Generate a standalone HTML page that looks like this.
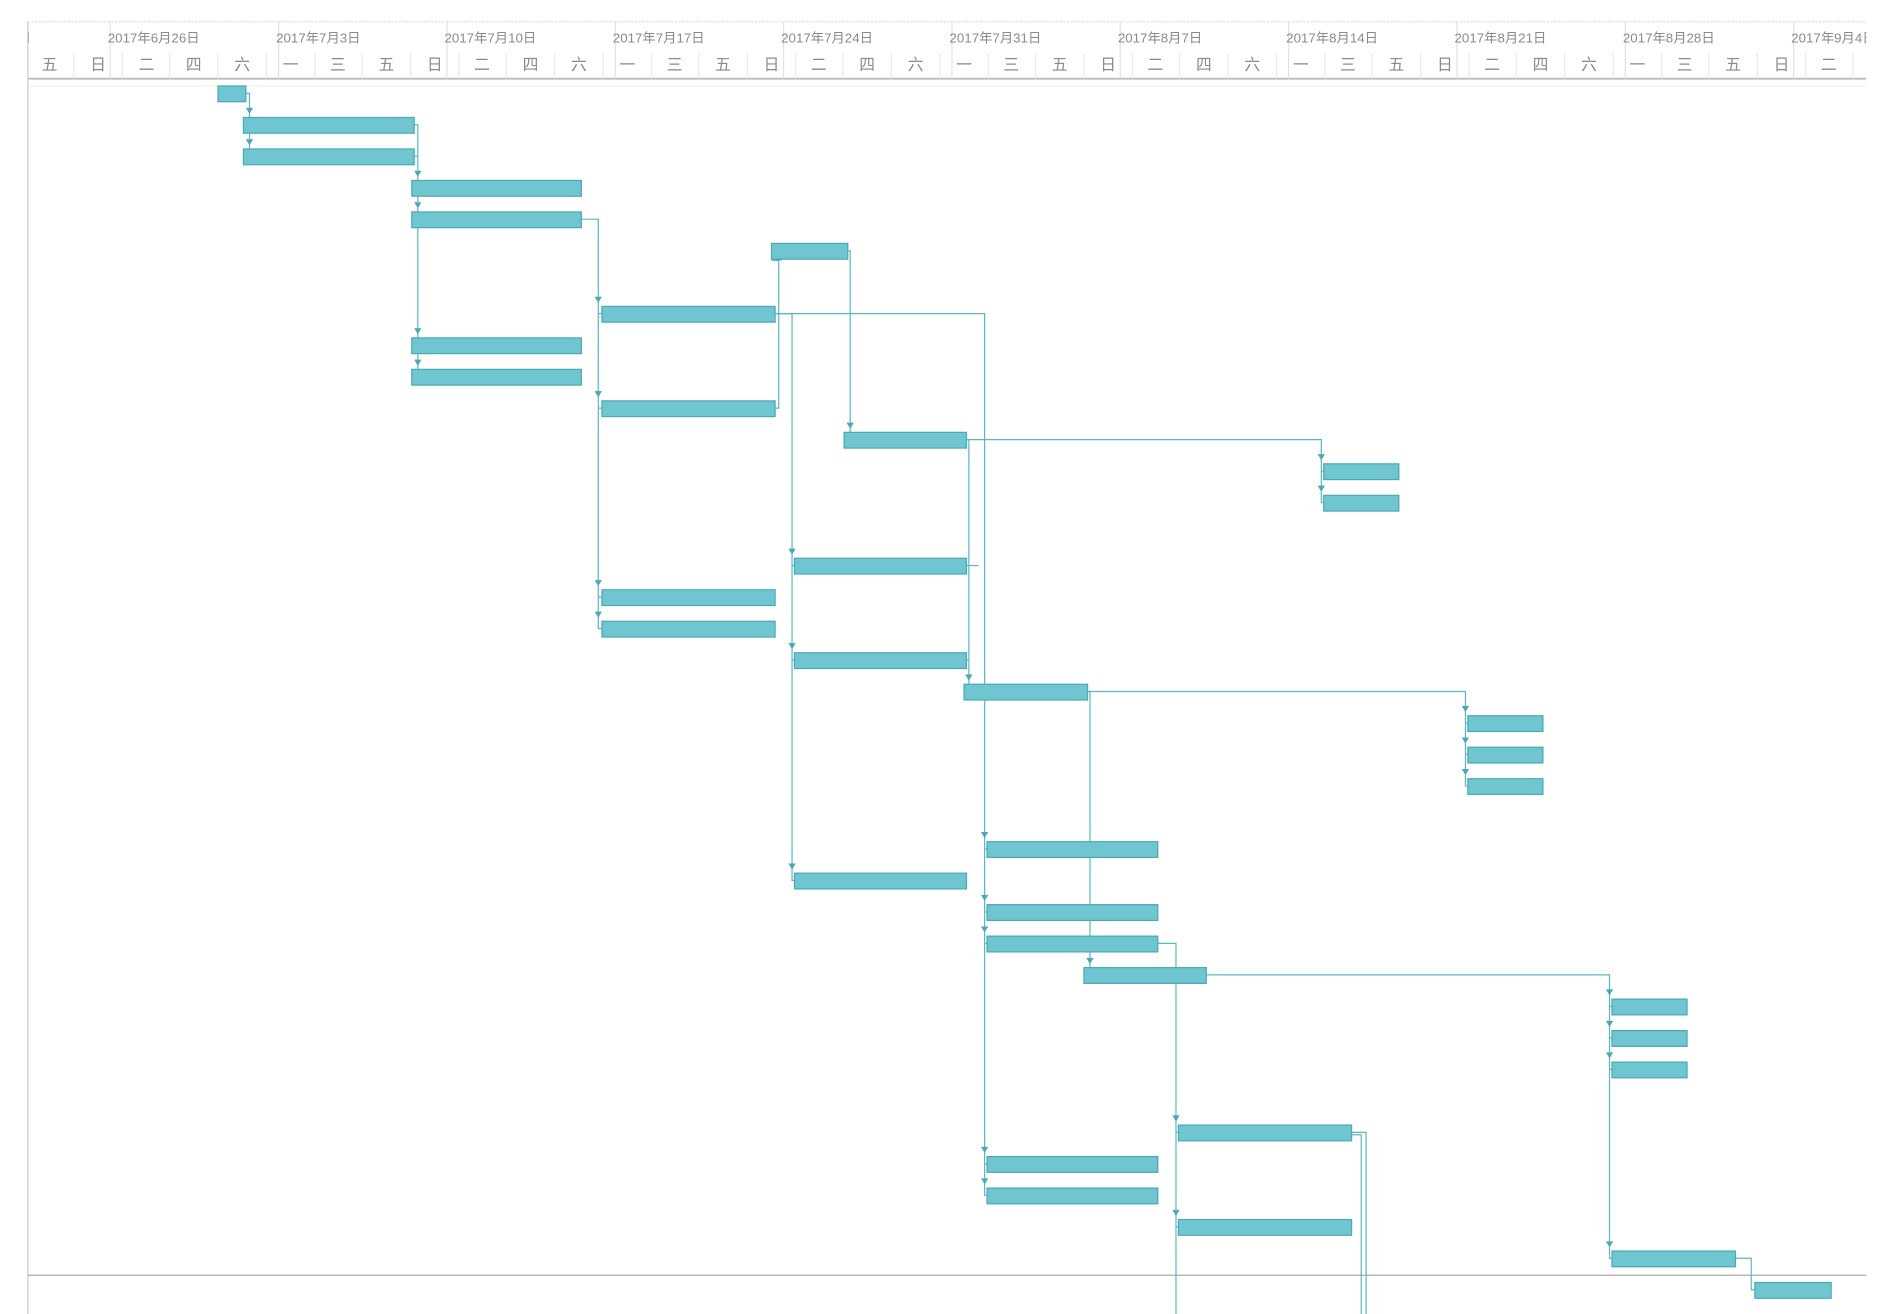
<!DOCTYPE html>
<html><head><meta charset="utf-8"><style>
html,body{margin:0;padding:0;background:#fff;width:1899px;height:1314px;overflow:hidden}
svg{display:block}
text{font-family:"Liberation Sans","Noto Sans CJK SC",sans-serif;fill:#8a8a8a}
</style></head><body>
<svg width="1899" height="1314" viewBox="0 0 1568 1085" preserveAspectRatio="none" xmlns="http://www.w3.org/2000/svg">
<defs><clipPath id="c"><rect x="23" y="0" width="1518" height="1085"/></clipPath></defs>
<g clip-path="url(#c)">
<line x1="23" y1="18" x2="1541" y2="18" stroke="#ddd" stroke-dasharray="2,1"/>
<line x1="23" y1="65" x2="1541" y2="65" stroke="#bbb" stroke-width="1.5"/>
<line x1="23" y1="71" x2="1541" y2="71" stroke="#f0f0f0"/>
<g stroke="#e2e2e2">
<line x1="91" y1="18" x2="91" y2="65"/><line x1="230" y1="18" x2="230" y2="65"/><line x1="369" y1="18" x2="369" y2="65"/><line x1="508" y1="18" x2="508" y2="65"/><line x1="647" y1="18" x2="647" y2="65"/><line x1="786" y1="18" x2="786" y2="65"/><line x1="925" y1="18" x2="925" y2="65"/><line x1="1064" y1="18" x2="1064" y2="65"/><line x1="1203" y1="18" x2="1203" y2="65"/><line x1="1342" y1="18" x2="1342" y2="65"/><line x1="1481" y1="18" x2="1481" y2="65"/>
</g>
<g stroke="#eaeaea">
<line x1="61" y1="44" x2="61" y2="65"/><line x1="101" y1="44" x2="101" y2="65"/><line x1="140" y1="44" x2="140" y2="65"/><line x1="180" y1="44" x2="180" y2="65"/><line x1="220" y1="44" x2="220" y2="65"/><line x1="260" y1="44" x2="260" y2="65"/><line x1="299" y1="44" x2="299" y2="65"/><line x1="339" y1="44" x2="339" y2="65"/><line x1="379" y1="44" x2="379" y2="65"/><line x1="418" y1="44" x2="418" y2="65"/><line x1="458" y1="44" x2="458" y2="65"/><line x1="498" y1="44" x2="498" y2="65"/><line x1="538" y1="44" x2="538" y2="65"/><line x1="577" y1="44" x2="577" y2="65"/><line x1="617" y1="44" x2="617" y2="65"/><line x1="657" y1="44" x2="657" y2="65"/><line x1="696" y1="44" x2="696" y2="65"/><line x1="736" y1="44" x2="736" y2="65"/><line x1="776" y1="44" x2="776" y2="65"/><line x1="816" y1="44" x2="816" y2="65"/><line x1="855" y1="44" x2="855" y2="65"/><line x1="895" y1="44" x2="895" y2="65"/><line x1="935" y1="44" x2="935" y2="65"/><line x1="974" y1="44" x2="974" y2="65"/><line x1="1014" y1="44" x2="1014" y2="65"/><line x1="1054" y1="44" x2="1054" y2="65"/><line x1="1094" y1="44" x2="1094" y2="65"/><line x1="1133" y1="44" x2="1133" y2="65"/><line x1="1173" y1="44" x2="1173" y2="65"/><line x1="1213" y1="44" x2="1213" y2="65"/><line x1="1252" y1="44" x2="1252" y2="65"/><line x1="1292" y1="44" x2="1292" y2="65"/><line x1="1332" y1="44" x2="1332" y2="65"/><line x1="1372" y1="44" x2="1372" y2="65"/><line x1="1411" y1="44" x2="1411" y2="65"/><line x1="1451" y1="44" x2="1451" y2="65"/><line x1="1491" y1="44" x2="1491" y2="65"/><line x1="1530" y1="44" x2="1530" y2="65"/>
</g>
<g font-size="11">
<text x="-50" y="35">2017年6月19日</text><text x="89" y="35">2017年6月26日</text><text x="228" y="35">2017年7月3日</text><text x="367" y="35">2017年7月10日</text><text x="506" y="35">2017年7月17日</text><text x="645" y="35">2017年7月24日</text><text x="784" y="35">2017年7月31日</text><text x="923" y="35">2017年8月7日</text><text x="1062" y="35">2017年8月14日</text><text x="1201" y="35">2017年8月21日</text><text x="1340" y="35">2017年8月28日</text><text x="1479" y="35">2017年9月4日</text>
</g>
<g font-size="13" text-anchor="middle">
<text x="41" y="58">五</text><text x="81" y="58">日</text><text x="121" y="58">二</text><text x="160" y="58">四</text><text x="200" y="58">六</text><text x="240" y="58">一</text><text x="279" y="58">三</text><text x="319" y="58">五</text><text x="359" y="58">日</text><text x="398" y="58">二</text><text x="438" y="58">四</text><text x="478" y="58">六</text><text x="518" y="58">一</text><text x="557" y="58">三</text><text x="597" y="58">五</text><text x="637" y="58">日</text><text x="676" y="58">二</text><text x="716" y="58">四</text><text x="756" y="58">六</text><text x="796" y="58">一</text><text x="835" y="58">三</text><text x="875" y="58">五</text><text x="915" y="58">日</text><text x="954" y="58">二</text><text x="994" y="58">四</text><text x="1034" y="58">六</text><text x="1074" y="58">一</text><text x="1113" y="58">三</text><text x="1153" y="58">五</text><text x="1193" y="58">日</text><text x="1232" y="58">二</text><text x="1272" y="58">四</text><text x="1312" y="58">六</text><text x="1352" y="58">一</text><text x="1391" y="58">三</text><text x="1431" y="58">五</text><text x="1471" y="58">日</text><text x="1510" y="58">二</text>
</g>
</g>
<line x1="23" y1="18" x2="23" y2="1085" stroke="#ccc"/>
<line x1="23" y1="1053" x2="1541" y2="1053" stroke="#aaa"/>
<g stroke="#5bb8c4" stroke-width="1" fill="none">
<polyline points="203,77 206,77 206,129 201,129"/><line x1="206" y1="103" x2="201" y2="103"/>
<polyline points="342,103 345,103 345,311 340,311"/><line x1="342" y1="129" x2="345" y2="129"/><line x1="345" y1="155" x2="340" y2="155"/><line x1="345" y1="181" x2="340" y2="181"/><line x1="345" y1="285" x2="340" y2="285"/>
<polyline points="480,181 494,181 494,519 497,519"/><line x1="494" y1="259" x2="497" y2="259"/><line x1="494" y1="337" x2="497" y2="337"/><line x1="494" y1="493" x2="497" y2="493"/>
<polyline points="640,337 643,337 643,215 637,215"/>
<polyline points="700,207 702,207 702,363 697,363"/>
<polyline points="640,259 654,259 654,727 656,727"/><line x1="654" y1="467" x2="656" y2="467"/><line x1="654" y1="545" x2="656" y2="545"/>
<polyline points="640,259 813,259 813,987 815,987"/><line x1="813" y1="701" x2="815" y2="701"/><line x1="813" y1="753" x2="815" y2="753"/><line x1="813" y1="779" x2="815" y2="779"/><line x1="813" y1="961" x2="815" y2="961"/>
<polyline points="798,363 1091,363 1091,415 1093,415"/><line x1="1091" y1="389" x2="1093" y2="389"/>
<polyline points="798,363 800,363 800,571 796,571"/><line x1="798" y1="467" x2="808" y2="467"/><line x1="798" y1="545" x2="800" y2="545"/>
<polyline points="898,571 1210,571 1210,649 1212,649"/><line x1="1210" y1="597" x2="1212" y2="597"/><line x1="1210" y1="623" x2="1212" y2="623"/>
<polyline points="898,571 900,571 900,805 895,805"/>
<polyline points="956,779 971,779 971,1085"/><line x1="971" y1="935" x2="973" y2="935"/><line x1="971" y1="1013" x2="973" y2="1013"/>
<polyline points="996,805 1329,805 1329,1039 1331,1039"/><line x1="1329" y1="831" x2="1331" y2="831"/><line x1="1329" y1="857" x2="1331" y2="857"/><line x1="1329" y1="883" x2="1331" y2="883"/>
<polyline points="1116,935 1128,935 1128,1085"/><line x1="1116" y1="937" x2="1124" y2="937"/><line x1="1124" y1="937" x2="1124" y2="1085"/>
<polyline points="1433,1039 1446,1039 1446,1065 1449,1065"/>
</g>
<g fill="#4aa9b5">
<path d="M203,89l3,5l3,-5z"/><path d="M203,115l3,5l3,-5z"/>
<path d="M342,141l3,5l3,-5z"/><path d="M342,167l3,5l3,-5z"/><path d="M342,271l3,5l3,-5z"/><path d="M342,297l3,5l3,-5z"/>
<path d="M491,245l3,5l3,-5z"/><path d="M491,323l3,5l3,-5z"/><path d="M491,479l3,5l3,-5z"/><path d="M491,505l3,5l3,-5z"/>
<path d="M640,215l3,-5l3,5z"/><path d="M699,349l3,5l3,-5z"/>
<path d="M651,453l3,5l3,-5z"/><path d="M651,531l3,5l3,-5z"/><path d="M651,713l3,5l3,-5z"/>
<path d="M810,687l3,5l3,-5z"/><path d="M810,739l3,5l3,-5z"/><path d="M810,765l3,5l3,-5z"/><path d="M810,947l3,5l3,-5z"/><path d="M810,973l3,5l3,-5z"/>
<path d="M1088,375l3,5l3,-5z"/><path d="M1088,401l3,5l3,-5z"/><path d="M797,557l3,5l3,-5z"/>
<path d="M1207,583l3,5l3,-5z"/><path d="M1207,609l3,5l3,-5z"/><path d="M1207,635l3,5l3,-5z"/><path d="M897,791l3,5l3,-5z"/>
<path d="M968,921l3,5l3,-5z"/><path d="M968,999l3,5l3,-5z"/>
<path d="M1326,817l3,5l3,-5z"/><path d="M1326,843l3,5l3,-5z"/><path d="M1326,869l3,5l3,-5z"/><path d="M1326,1025l3,5l3,-5z"/>
</g>
<g fill="#6fc6d0" stroke="#4aa9b5" stroke-width="1">
<rect x="180" y="71" width="23" height="13"/>
<rect x="201" y="97" width="141" height="13"/><rect x="201" y="123" width="141" height="13"/>
<rect x="340" y="149" width="140" height="13"/><rect x="340" y="175" width="140" height="13"/>
<rect x="637" y="201" width="63" height="13"/>
<rect x="497" y="253" width="143" height="13"/>
<rect x="340" y="279" width="140" height="13"/><rect x="340" y="305" width="140" height="13"/>
<rect x="497" y="331" width="143" height="13"/>
<rect x="697" y="357" width="101" height="13"/>
<rect x="1093" y="383" width="62" height="13"/><rect x="1093" y="409" width="62" height="13"/>
<rect x="656" y="461" width="142" height="13"/>
<rect x="497" y="487" width="143" height="13"/><rect x="497" y="513" width="143" height="13"/>
<rect x="656" y="539" width="142" height="13"/>
<rect x="796" y="565" width="102" height="13"/>
<rect x="1212" y="591" width="62" height="13"/><rect x="1212" y="617" width="62" height="13"/><rect x="1212" y="643" width="62" height="13"/>
<rect x="815" y="695" width="141" height="13"/>
<rect x="656" y="721" width="142" height="13"/>
<rect x="815" y="747" width="141" height="13"/><rect x="815" y="773" width="141" height="13"/>
<rect x="895" y="799" width="101" height="13"/>
<rect x="1331" y="825" width="62" height="13"/><rect x="1331" y="851" width="62" height="13"/><rect x="1331" y="877" width="62" height="13"/>
<rect x="973" y="929" width="143" height="13"/>
<rect x="815" y="955" width="141" height="13"/><rect x="815" y="981" width="141" height="13"/>
<rect x="973" y="1007" width="143" height="13"/>
<rect x="1331" y="1033" width="102" height="13"/>
<rect x="1449" y="1059" width="63" height="13"/>
</g>
</svg>
</body></html>
